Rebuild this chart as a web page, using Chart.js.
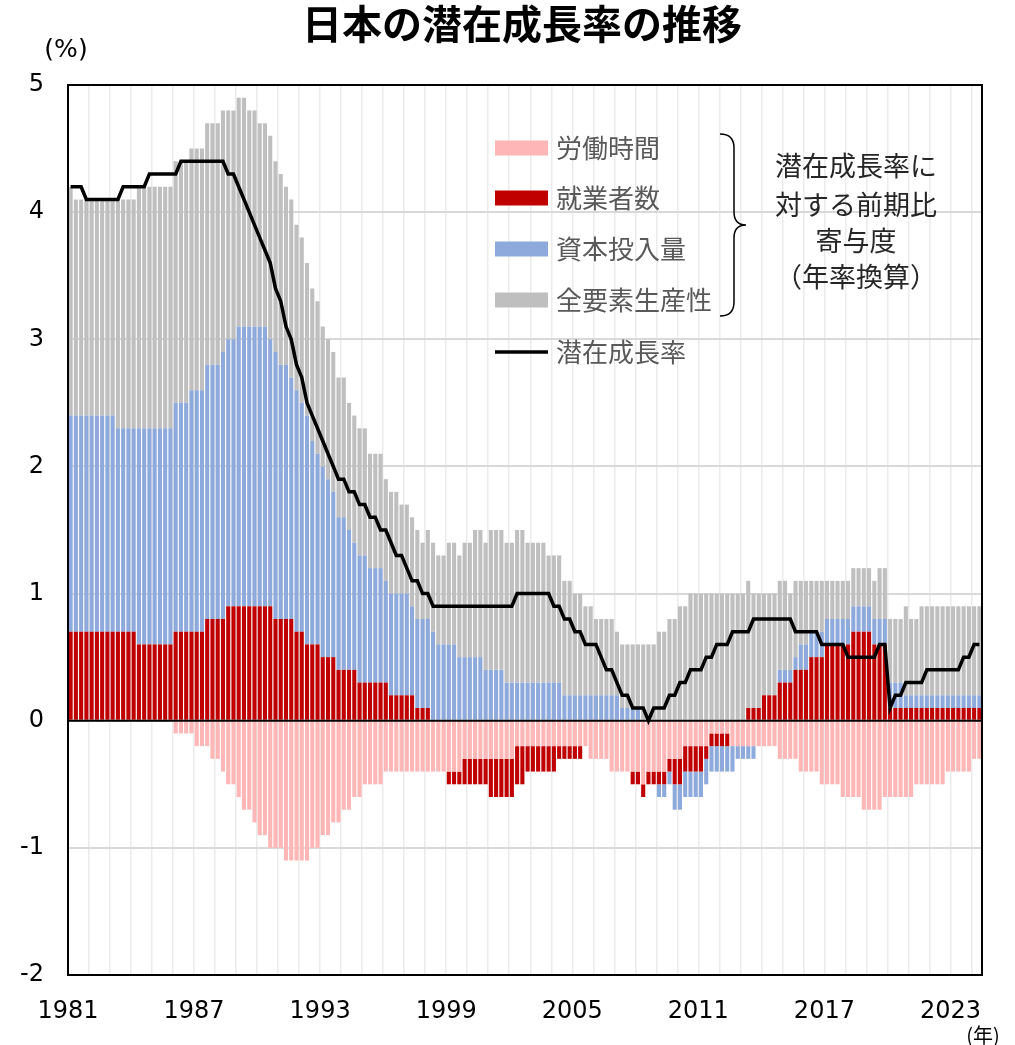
<!DOCTYPE html>
<html lang="ja">
<head>
<meta charset="utf-8">
<title>日本の潜在成長率の推移</title>
<script src="https://cdn.jsdelivr.net/npm/chart.js@4.4.1/dist/chart.umd.min.js"></script>
<style>
  html, body { margin: 0; padding: 0; background: #fff; }
  canvas { display: block; }
</style>
</head>
<body>
<canvas id="chart" width="1015" height="1045"></canvas>
<script>
// quarterly data, 1981Q1 .. 2024Q2 (%, contribution, annualised)
const firstYear = 1981;
const yearLabels = ['1981', '1987', '1993', '1999', '2005', '2011', '2017', '2023'];

// 労働時間
const hours = [
  0,0,0,0, 0,0,0,0, 0,0,0,0, 0,0,0,0,
  0,0,0,0, -0.1,-0.1,-0.1,-0.1, -0.2,-0.2,-0.2,-0.3, -0.3,-0.4,-0.5,-0.5,
  -0.6,-0.7,-0.7,-0.8, -0.9,-0.9,-1.0,-1.0, -1.0,-1.1,-1.1,-1.1, -1.1,-1.1,-1.0,-1.0,
  -0.9,-0.9,-0.8,-0.8, -0.7,-0.7,-0.6,-0.6, -0.5,-0.5,-0.5,-0.5, -0.4,-0.4,-0.4,-0.4,
  -0.4,-0.4,-0.4,-0.4, -0.4,-0.4,-0.4,-0.4, -0.4,-0.4,-0.4,-0.3, -0.3,-0.3,-0.3,-0.3,
  -0.3,-0.3,-0.3,-0.3, -0.3,-0.2,-0.2,-0.2, -0.2,-0.2,-0.2,-0.2, -0.2,-0.2,-0.2,-0.2,
  -0.2,-0.2,-0.2,-0.3, -0.3,-0.3,-0.3,-0.4, -0.4,-0.4,-0.4,-0.4, -0.4,-0.5,-0.4,-0.4,
  -0.4,-0.4,-0.3,-0.3, -0.3,-0.2,-0.2,-0.2, -0.2,-0.2,-0.1,-0.1, -0.1,-0.1,-0.2,-0.2,
  -0.2,-0.2,-0.2,-0.2, -0.2,-0.2,-0.2,-0.3, -0.3,-0.3,-0.3,-0.4, -0.4,-0.4,-0.4,-0.5,
  -0.5,-0.5,-0.5,-0.6, -0.6,-0.6,-0.6,-0.7, -0.7,-0.7,-0.7,-0.6, -0.6,-0.6,-0.6,-0.6,
  -0.6,-0.5,-0.5,-0.5, -0.5,-0.5,-0.5,-0.4, -0.4,-0.4,-0.4,-0.4, -0.3,-0.3
];

// 就業者数
const employment = [
  0.7,0.7,0.7,0.7, 0.7,0.7,0.7,0.7, 0.7,0.7,0.7,0.7, 0.7,0.6,0.6,0.6,
  0.6,0.6,0.6,0.6, 0.7,0.7,0.7,0.7, 0.7,0.7,0.8,0.8, 0.8,0.8,0.9,0.9,
  0.9,0.9,0.9,0.9, 0.9,0.9,0.9,0.8, 0.8,0.8,0.8,0.7, 0.7,0.6,0.6,0.6,
  0.5,0.5,0.5,0.4, 0.4,0.4,0.4,0.3, 0.3,0.3,0.3,0.3, 0.3,0.2,0.2,0.2,
  0.2,0.2,0.1,0.1, 0.1,0,0,0, -0.1,-0.1,-0.1,-0.2, -0.2,-0.2,-0.2,-0.2,
  -0.3,-0.3,-0.3,-0.3, -0.3,-0.3,-0.3,-0.2, -0.2,-0.2,-0.2,-0.2, -0.2,-0.1,-0.1,-0.1,
  -0.1,-0.1,0,0, 0,0,0,0, 0,0,0,-0.1, -0.1,-0.1,-0.1,-0.1,
  -0.1,-0.1,-0.1,-0.2, -0.2,-0.2,-0.2,-0.2, -0.2,-0.1,-0.1,-0.1, -0.1,-0.1,0,0,
  0,0.1,0.1,0.1, 0.2,0.2,0.2,0.3, 0.3,0.3,0.4,0.4, 0.4,0.5,0.5,0.5,
  0.6,0.6,0.6,0.6, 0.6,0.7,0.7,0.7, 0.7,0.6,0.6,0.6, 0.1,0.1,0.1,0.1,
  0.1,0.1,0.1,0.1, 0.1,0.1,0.1,0.1, 0.1,0.1,0.1,0.1, 0.1,0.1
];

// 資本投入量
const capital = [
  1.7,1.7,1.7,1.7, 1.7,1.7,1.7,1.7, 1.7,1.6,1.6,1.6, 1.6,1.7,1.7,1.7,
  1.7,1.7,1.7,1.7, 1.8,1.8,1.8,1.9, 1.9,1.9,2.0,2.0, 2.0,2.1,2.1,2.1,
  2.2,2.2,2.2,2.2, 2.2,2.2,2.1,2.1, 2.0,2.0,1.9,1.9, 1.8,1.8,1.6,1.5,
  1.5,1.4,1.3,1.2, 1.2,1.1,1.0,1.0, 1.0,0.9,0.9,0.9, 0.8,0.8,0.8,0.8,
  0.8,0.7,0.7,0.7, 0.7,0.7,0.6,0.6, 0.6,0.6,0.5,0.5, 0.5,0.5,0.5,0.4,
  0.4,0.4,0.4,0.3, 0.3,0.3,0.3,0.3, 0.3,0.3,0.3,0.3, 0.3,0.3,0.2,0.2,
  0.2,0.2,0.2,0.2, 0.2,0.2,0.2,0.2, 0.2,0.1,0.1,0.1, 0.1,0,0,0,
  -0.1,-0.1,-0.1,-0.2, -0.2,-0.2,-0.2,-0.2, -0.2,-0.2,-0.2,-0.2, -0.2,-0.2,-0.2,-0.1,
  -0.1,-0.1,-0.1,0, 0,0,0,0.1, 0.1,0.1,0.1,0.2, 0.2,0.2,0.2,0.2,
  0.2,0.2,0.2,0.2, 0.2,0.2,0.2,0.2, 0.2,0.2,0.2,0.2, 0.2,0.2,0.2,0.1,
  0.1,0.1,0.1,0.1, 0.1,0.1,0.1,0.1, 0.1,0.1,0.1,0.1, 0.1,0.1
];

// 全要素生産性
const tfp = [
  1.8,1.7,1.7,1.7, 1.7,1.7,1.7,1.7, 1.7,1.8,1.8,1.8, 1.8,1.9,1.9,1.9,
  1.9,1.9,1.9,1.9, 1.9,1.9,1.9,1.9, 1.9,1.9,1.9,1.9, 1.9,1.9,1.8,1.8,
  1.8,1.8,1.7,1.7, 1.6,1.6,1.6,1.5, 1.5,1.4,1.4,1.3, 1.3,1.2,1.2,1.2,
  1.1,1.1,1.1,1.1, 1.1,1.0,1.0,1.0, 1.0,0.9,0.9,0.9, 0.8,0.8,0.8,0.7,
  0.7,0.7,0.7,0.6, 0.7,0.7,0.7,0.7, 0.8,0.8,0.8,0.9, 0.9,1.0,1.0,1.0,
  1.1,1.1,1.1,1.1, 1.1,1.2,1.2,1.1, 1.1,1.1,1.1,1.0, 1.0,1.0,0.9,0.9,
  0.8,0.8,0.7,0.7, 0.6,0.6,0.6,0.6, 0.5,0.5,0.5,0.5, 0.5,0.6,0.6,0.6,
  0.7,0.7,0.8,0.8, 0.9,0.9,1.0,1.0, 1.0,1.0,1.0,1.0, 1.0,1.0,1.0,1.0,
  1.0,1.0,0.9,0.9, 0.8,0.8,0.8,0.7, 0.7,0.6,0.6,0.5, 0.5,0.4,0.4,0.4,
  0.3,0.3,0.3,0.3, 0.3,0.3,0.3,0.3, 0.3,0.3,0.4,0.4, 0.5,0.5,0.5,0.7,
  0.6,0.6,0.7,0.7, 0.7,0.7,0.7,0.7, 0.7,0.7,0.7,0.7, 0.7,0.7
];

// 潜在成長率
const potential = [
  4.2,4.2,4.2,4.1, 4.1,4.1,4.1,4.1, 4.1,4.1,4.2,4.2, 4.2,4.2,4.2,4.3,
  4.3,4.3,4.3,4.3, 4.3,4.4,4.4,4.4, 4.4,4.4,4.4,4.4, 4.4,4.4,4.3,4.3,
  4.2,4.1,4.0,3.9, 3.8,3.7,3.6,3.4, 3.3,3.1,3.0,2.8, 2.7,2.5,2.4,2.3,
  2.2,2.1,2.0,1.9, 1.9,1.8,1.8,1.7, 1.7,1.6,1.6,1.5, 1.5,1.4,1.3,1.3,
  1.2,1.1,1.1,1.0, 1.0,0.9,0.9,0.9, 0.9,0.9,0.9,0.9, 0.9,0.9,0.9,0.9,
  0.9,0.9,0.9,0.9, 0.9,1.0,1.0,1.0, 1.0,1.0,1.0,1.0, 0.9,0.9,0.8,0.8,
  0.7,0.7,0.6,0.6, 0.6,0.5,0.4,0.4, 0.3,0.2,0.2,0.1, 0.1,0.1,0.0,0.1,
  0.1,0.1,0.2,0.2, 0.3,0.3,0.4,0.4, 0.4,0.5,0.5,0.6, 0.6,0.6,0.7,0.7,
  0.7,0.7,0.8,0.8, 0.8,0.8,0.8,0.8, 0.8,0.8,0.7,0.7, 0.7,0.7,0.7,0.6,
  0.6,0.6,0.6,0.6, 0.5,0.5,0.5,0.5, 0.5,0.5,0.6,0.6, 0.1,0.2,0.2,0.3,
  0.3,0.3,0.3,0.4, 0.4,0.4,0.4,0.4, 0.4,0.4,0.5,0.5, 0.6,0.6
];

const quarters = [];
for (let i = 0; i < hours.length; i++) {
  quarters.push(`${firstYear + Math.floor(i / 4)}Q${(i % 4) + 1}`);
}

// bar centred in its quarter slot on a linear axis
const toPoints = (values) => values.map((v, i) => ({ x: i + 0.5, y: v }));

const numFont = '"DejaVu Sans", Verdana, sans-serif';
const jpFont = '"Noto Sans CJK JP", "Noto Sans", sans-serif';

const barStyle = { type: 'bar', barPercentage: 0.78, categoryPercentage: 1.0, borderWidth: 0 };

const decor = {
  id: 'decor',
  beforeDatasetDraw(chart, args) {
    // zero line above the bars, under the black line
    if (chart.data.datasets[args.index].type !== 'line') return;
    const { ctx, chartArea, scales } = chart;
    const y0 = scales.y.getPixelForValue(0);
    ctx.save();
    ctx.strokeStyle = '#000';
    ctx.lineWidth = 2;
    ctx.beginPath();
    ctx.moveTo(chartArea.left, y0);
    ctx.lineTo(chartArea.right, y0);
    ctx.stroke();
    ctx.restore();
  },
  afterDraw(chart) {
    const { ctx, chartArea } = chart;
    ctx.save();

    // plot frame
    ctx.strokeStyle = '#000';
    ctx.lineWidth = 2;
    ctx.strokeRect(chartArea.left, chartArea.top, chartArea.right - chartArea.left, chartArea.bottom - chartArea.top);

    // title
    ctx.fillStyle = '#000';
    ctx.textAlign = 'center';
    ctx.textBaseline = 'middle';
    ctx.font = `bold 40px ${jpFont}`;
    ctx.fillText('日本の潜在成長率の推移', 522, 24);

    // units
    ctx.font = `25px ${numFont}`;
    ctx.fillText('(%)', 66, 50);
    ctx.font = `20px ${jpFont}`;
    ctx.fillText('(年)', 983, 1035);

    // legend
    ctx.font = `26px ${jpFont}`;
    ctx.textAlign = 'left';
    const rows = [148, 198, 249, 300, 352];
    chart.data.datasets.forEach((ds, i) => {
      const y = rows[i];
      if (ds.type === 'line') {
        ctx.strokeStyle = ds.borderColor;
        ctx.lineWidth = 3.5;
        ctx.beginPath();
        ctx.moveTo(495, y);
        ctx.lineTo(548, y);
        ctx.stroke();
      } else {
        ctx.fillStyle = ds.backgroundColor;
        ctx.fillRect(495, y - 7.5, 53, 15);
      }
      ctx.fillStyle = '#595959';
      ctx.fillText(ds.label, 556, y);
    });

    // brace
    ctx.strokeStyle = '#000';
    ctx.lineWidth = 1.5;
    ctx.beginPath();
    ctx.moveTo(720, 134);
    ctx.quadraticCurveTo(734, 134, 734, 148);
    ctx.lineTo(734, 212);
    ctx.quadraticCurveTo(734, 225, 746, 225);
    ctx.quadraticCurveTo(734, 225, 734, 238);
    ctx.lineTo(734, 302);
    ctx.quadraticCurveTo(734, 316, 720, 316);
    ctx.stroke();

    ctx.font = `27px ${jpFont}`;
    ctx.fillStyle = '#262626';
    ctx.textAlign = 'center';
    const note = ['潜在成長率に', '対する前期比', '寄与度', '（年率換算）'];
    const noteY = [166, 205, 241, 277];
    note.forEach((t, i) => ctx.fillText(t, 856, noteY[i]));

    ctx.restore();
  }
};

new Chart(document.getElementById('chart'), {
  data: {
    datasets: [
      { ...barStyle, label: '労働時間', data: toPoints(hours), backgroundColor: '#FFB6B6' },
      { ...barStyle, label: '就業者数', data: toPoints(employment), backgroundColor: '#C00000' },
      { ...barStyle, label: '資本投入量', data: toPoints(capital), backgroundColor: '#8EA9DB' },
      { ...barStyle, label: '全要素生産性', data: toPoints(tfp), backgroundColor: '#BFBFBF' },
      {
        type: 'line',
        label: '潜在成長率',
        data: toPoints(potential),
        borderColor: '#000',
        borderWidth: 3.5,
        pointRadius: 0,
        tension: 0,
        order: -1
      }
    ]
  },
  options: {
    responsive: false,
    animation: false,
    events: [],
    layout: { padding: { top: 85, right: 33, bottom: 0, left: 0 } },
    plugins: {
      legend: { display: false },
      tooltip: { enabled: false }
    },
    scales: {
      x: {
        type: 'linear',
        min: 0,
        max: quarters.length,
        offset: false,
        stacked: true,
        afterBuildTicks: (s) => {
          const t = [];
          for (let v = 0; v < quarters.length; v += 4) t.push({ value: v });
          s.ticks = t;
        },
        afterFit: (s) => { s.height = 70; },
        ticks: {
          autoSkip: false,
          maxRotation: 0,
          minRotation: 0,
          padding: 22,
          color: '#000',
          font: { family: numFont, size: 24 },
          callback: (v) => (v % 24 === 0 ? yearLabels[v / 24] : '')
        },
        grid: { color: '#EBEBEB', lineWidth: 1.5, drawTicks: false, offset: false },
        border: { display: false }
      },
      y: {
        min: -2,
        max: 5,
        stacked: true,
        afterFit: (s) => { s.width = 68; },
        ticks: {
          stepSize: 1,
          padding: 24,
          color: '#000',
          font: { family: numFont, size: 24 },
          callback: (v) => String(v)
        },
        grid: { color: '#D9D9D9', lineWidth: 2, drawTicks: false },
        border: { display: false }
      }
    }
  },
  plugins: [decor]
});
</script>
</body>
</html>
